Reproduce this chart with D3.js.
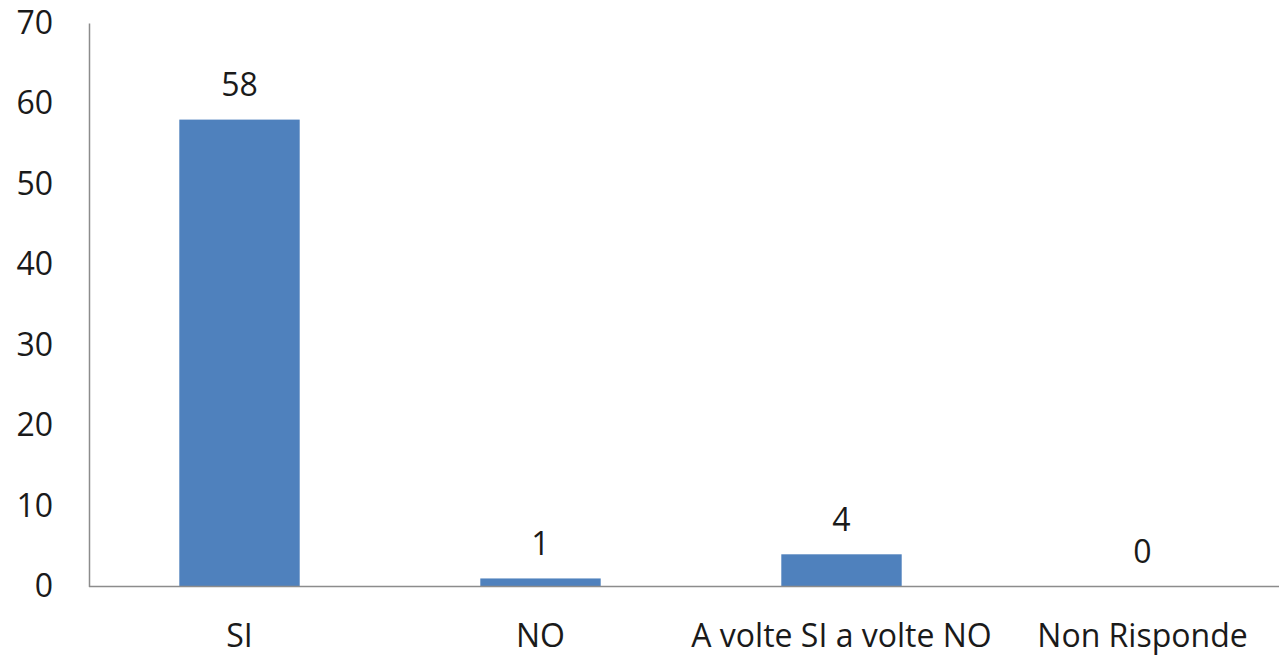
<!DOCTYPE html>
<html>
<head>
<meta charset="utf-8">
<script src="https://cdn.jsdelivr.net/npm/d3@7"></script>
<style>
  html, body { margin: 0; padding: 0; background: #fff; }
  svg { display: block; }
  text { font-family: "Open Sans", "Noto Sans", sans-serif; fill: #1a1a1a; }
</style>
</head>
<body>
<svg id="chart" width="1279" height="655"></svg>
<script>
// chart data
const categories = ["SI", "NO", "A volte SI a volte NO", "Non Risponde"];
const values = [58, 1, 4, 0];
const yTicks = [0, 10, 20, 30, 40, 50, 60, 70];

const svg = d3.select("#chart");
const width = 1279;
const fontSize = "32px";

const x = d3.scaleBand()
  .domain(categories)
  .range([89, 1293])
  .paddingInner(0.6)
  .paddingOuter(0.3);

const y = d3.scaleLinear()
  .domain([0, 70])
  .range([586.5, 23]);

// y axis: line + labels, no tick marks
const yAxis = svg.append("g")
  .attr("transform", "translate(89,0)")
  .call(d3.axisLeft(y).tickValues(yTicks).tickSize(0).tickPadding(36));
yAxis.select(".domain").attr("stroke", "#8c8c8c").attr("stroke-width", 1.5);
yAxis.selectAll("text")
  .style("font-size", fontSize)
  .attr("font-family", null);

// bars
svg.append("g")
  .selectAll("rect")
  .data(values)
  .join("rect")
  .attr("x", (d, i) => x(categories[i]))
  .attr("y", d => y(d))
  .attr("width", x.bandwidth())
  .attr("height", d => y(0) - y(d))
  .attr("fill", "#4f81bd");

// x axis baseline
svg.append("line")
  .attr("x1", 89).attr("x2", width)
  .attr("y1", y(0)).attr("y2", y(0))
  .attr("stroke", "#8c8c8c")
  .attr("stroke-width", 1.5);

// category labels
svg.append("g")
  .selectAll("text")
  .data(categories)
  .join("text")
  .attr("x", d => x(d) + x.bandwidth() / 2)
  .attr("y", 634)
  .attr("text-anchor", "middle")
  .attr("dominant-baseline", "central")
  .style("font-size", fontSize)
  .text(d => d);

// value labels
svg.append("g")
  .selectAll("text")
  .data(values)
  .join("text")
  .attr("x", (d, i) => x(categories[i]) + x.bandwidth() / 2)
  .attr("y", d => y(d) - 36)
  .attr("text-anchor", "middle")
  .attr("dominant-baseline", "central")
  .style("font-size", fontSize)
  .text(d => d);
</script>
</body>
</html>
